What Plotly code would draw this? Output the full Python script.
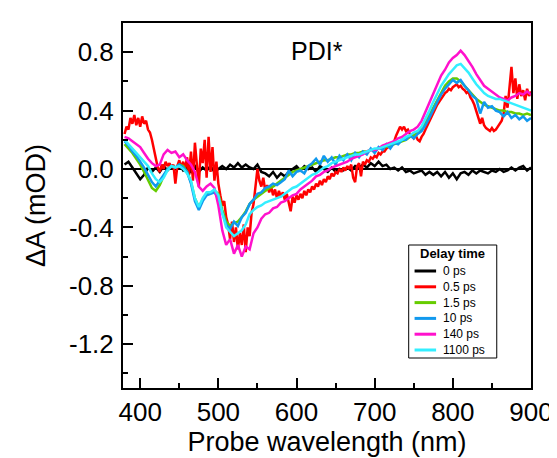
import plotly.graph_objects as go

# Probe wavelength grid (nm) shared by most series
wavelength = [
    380, 385, 390, 395, 400, 405, 410, 415, 420, 425,
    430, 435, 440, 445, 450, 455, 460, 465, 470, 475,
    480, 485, 490, 495, 500, 505, 510, 515, 520, 525,
    530, 535, 540, 545, 550, 555, 560, 565, 570, 575,
    580, 585, 590, 595, 600, 605, 610, 615, 620, 625,
    630, 635, 640, 645, 650, 655, 660, 665, 670, 675,
    680, 685, 690, 695, 700, 705, 710, 715, 720, 725,
    730, 735, 740, 745, 750, 755, 760, 765, 770, 775,
    780, 785, 790, 795, 800, 805, 810, 815, 820, 825,
    830, 835, 840, 845, 850, 855, 860, 865, 870, 875,
    880, 885, 890, 895, 900,
]

# finer grid read for the noisy 0.5 ps trace
wavelength_fine = [
    380, 382.5, 385, 387.5, 390, 392.5, 395, 397.5, 400, 402.5,
    405, 407.5, 410, 412.5, 415, 417.5, 420, 422.5, 425, 427.5,
    430, 432.5, 435, 437.5, 440, 442.5, 445, 447.5, 450, 452.5,
    455, 457.5, 460, 462.5, 465, 467.5, 470, 472.5, 475, 477.5,
    480, 482.5, 485, 487.5, 490, 492.5, 495, 497.5, 500, 502.5,
    505, 507.5, 510, 512.5, 515, 517.5, 520, 522.5, 525, 527.5,
    530, 532.5, 535, 537.5, 540, 542.5, 545, 547.5, 550, 552.5,
    555, 557.5, 560, 562.5, 565, 567.5, 570, 572.5, 575, 577.5,
    580, 582.5, 585, 587.5, 590, 592.5, 595, 597.5, 600, 602.5,
    605, 607.5, 610, 612.5, 615, 617.5, 620, 622.5, 625, 627.5,
    630, 632.5, 635, 637.5, 640, 642.5, 645, 647.5, 650, 652.5,
    655, 657.5, 660, 662.5, 665, 667.5, 670, 672.5, 675, 677.5,
    680, 682.5, 685, 687.5, 690, 692.5, 695, 697.5, 700, 702.5,
    705, 707.5, 710, 712.5, 715, 717.5, 720, 722.5, 725, 727.5,
    730, 732.5, 735, 737.5, 740, 742.5, 745, 747.5, 750, 752.5,
    755, 757.5, 760, 762.5, 765, 767.5, 770, 772.5, 775, 777.5,
    780, 782.5, 785, 787.5, 790, 792.5, 795, 797.5, 800, 802.5,
    805, 807.5, 810, 812.5, 815, 817.5, 820, 822.5, 825, 827.5,
    830, 832.5, 835, 837.5, 840, 842.5, 845, 847.5, 850, 852.5,
    855, 857.5, 860, 862.5, 865, 867.5, 870, 872.5, 875, 877.5,
    880, 882.5, 885, 887.5, 890, 892.5, 895, 897.5, 900,
]

dA_0ps = [
    0.03, 0.05, 0.01, -0.03, -0.07, -0.04, 0.01, -0.02, 0.01, -0.02,
    0.02, -0.01, 0.02, 0.00, 0.03, -0.01, 0.01, -0.02, 0.02, -0.02,
    0.01, -0.01, 0.02, -0.02, 0.00, 0.02, 0.00, 0.03, 0.01, 0.04,
    0.01, 0.03, 0.01, 0.00, 0.03, -0.02, -0.03, -0.05, -0.02, -0.06,
    -0.03, -0.05, -0.02, 0.00, 0.02, -0.01, 0.02, 0.00, 0.01, -0.02,
    0.02, 0.00, -0.02, 0.01, -0.02, 0.00, -0.01, 0.01, -0.01, 0.02,
    0.01, 0.03, 0.01, 0.04, 0.02, 0.05, 0.02, 0.03, 0.00, 0.01,
    -0.01, 0.01, -0.02, -0.01, -0.03, -0.02, -0.01, -0.04, -0.02, -0.04,
    -0.02, -0.05, -0.02, -0.06, -0.03, -0.07, -0.03, -0.02, -0.04, -0.01,
    -0.03, -0.01, -0.02, -0.03, -0.01, -0.02, 0.00, -0.02, -0.01, 0.01,
    -0.01, 0.01, 0.02, -0.01, 0.01,
]

dA_0p5ps = [
    0.24, 0.29, 0.27, 0.35, 0.31, 0.37, 0.30, 0.35, 0.29, 0.36,
    0.31, 0.33, 0.27, 0.25, 0.20, 0.13, 0.06, 0.01, -0.02, 0.03,
    0.00, 0.05, 0.02, 0.04, 0.01, 0.03, -0.10, 0.02, 0.06, 0.01,
    0.05, 0.00, 0.08, -0.04, 0.12, -0.08, 0.18, 0.02, -0.12, 0.14,
    0.04, 0.20, -0.06, 0.22, -0.02, 0.15, -0.08, 0.05, -0.10, -0.18,
    -0.25, -0.22, -0.33, -0.38, -0.48, -0.36, -0.50, -0.40, -0.55, -0.44,
    -0.52, -0.38, -0.57, -0.40, -0.46, -0.30, -0.24, -0.12, 0.00, -0.08,
    -0.12, -0.06, -0.15, -0.11, -0.16, -0.12, -0.18, -0.14, -0.20, -0.15,
    -0.19, -0.16, -0.21, -0.17, -0.22, -0.29, -0.19, -0.23, -0.18, -0.21,
    -0.17, -0.20, -0.15, -0.18, -0.14, -0.16, -0.12, -0.14, -0.10, -0.12,
    -0.08, -0.11, -0.07, -0.09, -0.05, -0.07, -0.03, -0.05, -0.02, -0.03,
    0.00, -0.02, 0.01, -0.01, 0.02, 0.00, 0.03, -0.06, -0.09, 0.02,
    0.04, -0.05, 0.05, 0.03, 0.06, 0.05, 0.08, 0.07, 0.09, 0.08,
    0.11, 0.10, 0.12, 0.12, 0.14, 0.15, 0.16, 0.18, 0.19, 0.23,
    0.26, 0.29, 0.27, 0.29, 0.26, 0.27, 0.24, 0.23, 0.21, 0.23,
    0.20, 0.19, 0.22, 0.24, 0.27, 0.30, 0.33, 0.36, 0.39, 0.42,
    0.44, 0.46, 0.48, 0.50, 0.52, 0.53, 0.55, 0.54, 0.56, 0.57,
    0.58, 0.56, 0.57, 0.55, 0.54, 0.52, 0.53, 0.49, 0.47, 0.44,
    0.40, 0.36, 0.31, 0.35, 0.30, 0.28, 0.27, 0.26, 0.28, 0.26,
    0.27, 0.29, 0.31, 0.33, 0.38, 0.50, 0.42, 0.58, 0.70, 0.52,
    0.62, 0.48, 0.58, 0.50, 0.54, 0.47, 0.55, 0.50, 0.53,
]

dA_1p5ps = [
    0.17, 0.14, 0.11, 0.07, 0.03, -0.02, -0.07, -0.13, -0.15, -0.11,
    -0.05, 0.00, 0.02, 0.01, 0.03, 0.02, -0.02, -0.09, -0.20, -0.26,
    -0.21, -0.17, -0.16, -0.15, -0.17, -0.28, -0.36, -0.39, -0.37, -0.36,
    -0.33, -0.29, -0.24, -0.21, -0.19, -0.17, -0.15, -0.13, -0.12, -0.10,
    -0.08, -0.06, -0.04, -0.02, -0.01, 0.00, 0.01, 0.02, 0.03, 0.04,
    0.05, 0.06, 0.06, 0.07, 0.08, 0.08, 0.09, 0.10, 0.10, 0.11,
    0.11, 0.12, 0.12, 0.13, 0.13, 0.14, 0.15, 0.15, 0.16, 0.17,
    0.18, 0.19, 0.20, 0.22, 0.23, 0.25, 0.28, 0.32, 0.37, 0.43,
    0.48, 0.53, 0.57, 0.60, 0.62, 0.62, 0.60, 0.57, 0.54, 0.51,
    0.48, 0.46, 0.44, 0.43, 0.42, 0.41, 0.40, 0.40, 0.39, 0.39,
    0.38, 0.38, 0.37, 0.38, 0.37,
]

dA_10ps = [
    0.19, 0.16, 0.12, 0.09, 0.05, 0.01, -0.04, -0.09, -0.12, -0.08,
    -0.04, 0.00, 0.02, 0.01, 0.03, 0.01, -0.02, -0.10, -0.22, -0.28,
    -0.22, -0.18, -0.17, -0.16, -0.20, -0.30, -0.38, -0.41, -0.36, -0.39,
    -0.33, -0.30, -0.24, -0.21, -0.17, -0.16, -0.13, -0.12, -0.10, -0.11,
    -0.09, -0.07, -0.01, -0.05, -0.02, -0.01, -0.03, 0.02, 0.04, 0.07,
    0.03, 0.09, 0.05, 0.08, 0.03, 0.09, 0.06, 0.10, 0.06, 0.11,
    0.08, 0.12, 0.10, 0.14, 0.11, 0.15, 0.13, 0.17, 0.14, 0.18,
    0.17, 0.20, 0.20, 0.23, 0.21, 0.24, 0.26, 0.30, 0.35, 0.41,
    0.46, 0.51, 0.55, 0.58, 0.61, 0.59, 0.61, 0.57, 0.54, 0.50,
    0.48, 0.38, 0.46, 0.42, 0.43, 0.40, 0.39, 0.36, 0.39, 0.35,
    0.37, 0.34, 0.36, 0.33, 0.35,
]

dA_140ps = [
    0.22, 0.21, 0.19, 0.17, 0.15, 0.11, 0.07, 0.04, 0.02, 0.03,
    0.10, 0.13, 0.11, 0.12, 0.08, 0.10, 0.06, 0.03, -0.02, -0.12,
    -0.15, -0.12, -0.10, -0.13, -0.25, -0.42, -0.52, -0.48, -0.58, -0.52,
    -0.60, -0.53, -0.55, -0.44, -0.40, -0.34, -0.31, -0.30, -0.27, -0.26,
    -0.23, -0.22, -0.20, -0.18, -0.17, -0.14, -0.12, -0.10, -0.08, -0.05,
    -0.04, -0.02, -0.01, 0.01, 0.02, 0.03, 0.04, 0.05, 0.07, 0.08,
    0.09, 0.10, 0.12, 0.13, 0.13, 0.14, 0.16, 0.17, 0.18, 0.19,
    0.21, 0.22, 0.24, 0.26, 0.27, 0.29, 0.33, 0.39, 0.46, 0.52,
    0.58, 0.64, 0.68, 0.73, 0.76, 0.78, 0.81, 0.78, 0.74, 0.70,
    0.65, 0.61, 0.57, 0.55, 0.53, 0.51, 0.49, 0.48, 0.47, 0.49,
    0.50, 0.52, 0.51, 0.53, 0.51,
]

dA_1100ps = [
    0.20, 0.17, 0.14, 0.11, 0.08, 0.05, 0.02, -0.03, -0.07, -0.09,
    -0.06, -0.01, 0.02, 0.01, 0.02, 0.00, -0.03, -0.08, -0.20, -0.26,
    -0.20, -0.16, -0.16, -0.14, -0.18, -0.30, -0.40, -0.43, -0.46, -0.44,
    -0.42, -0.38, -0.31, -0.28, -0.26, -0.25, -0.23, -0.22, -0.21, -0.20,
    -0.19, -0.17, -0.15, -0.13, -0.12, -0.10, -0.08, -0.06, -0.04, -0.03,
    -0.01, 0.01, 0.02, 0.04, 0.05, 0.06, 0.07, 0.08, 0.09, 0.10,
    0.10, 0.11, 0.12, 0.13, 0.14, 0.14, 0.15, 0.16, 0.17, 0.18,
    0.19, 0.20, 0.22, 0.23, 0.25, 0.26, 0.29, 0.34, 0.40, 0.46,
    0.52, 0.57, 0.61, 0.65, 0.68, 0.71, 0.72, 0.69, 0.66, 0.62,
    0.58, 0.55, 0.52, 0.50, 0.49, 0.48, 0.48, 0.47, 0.46, 0.45,
    0.44, 0.43, 0.42, 0.41, 0.40,
]

series_names = ["0 ps", "0.5 ps", "1.5 ps", "10 ps", "140 ps", "1100 ps"]
series_x = [wavelength, wavelength_fine, wavelength, wavelength, wavelength, wavelength]
series_values = [dA_0ps, dA_0p5ps, dA_1p5ps, dA_10ps, dA_140ps, dA_1100ps]
series_colors = ["#000000", "#FF0000", "#66CC00", "#1199EE", "#FF11CC", "#33EEFF"]
legend_title = "Delay time"

y_tickvals = [-1.2, -0.8, -0.4, 0.0, 0.4, 0.8]
y_ticktext = ["-1.2", "-0.8", "-0.4", "0.0", "0.4", "0.8"]
x_tickvals = [400, 500, 600, 700, 800, 900]

FONT = "Liberation Sans, Arial, Helvetica, sans-serif"

# plot-area geometry in pixels (for placing the hand-drawn legend box)
W, H = 557, 458
ML, MR, MT, MB = 115, 25, 15, 78
PW, PH = W - ML - MR, H - MT - MB


def px(x):
    return (x - ML) / PW


def py(y):
    return (H - MB - y) / PH


fig = go.Figure()
for name, xs, vals, col in zip(series_names, series_x, series_values, series_colors):
    fig.add_trace(go.Scatter(x=xs, y=vals, mode="lines", name=name,
                             line=dict(color=col, width=2.5), showlegend=False))

LEG_TOP, LEG_STEP, LEG_FIRST = 237, 15.8, 263.0
LEG_BOTTOM = LEG_FIRST + 5 * LEG_STEP + 8
shapes = [dict(type="rect", xref="paper", yref="paper",
               x0=px(407), x1=px(497), y0=py(LEG_BOTTOM), y1=py(LEG_TOP),
               line=dict(color="black", width=1), fillcolor="white", layer="above")]
annotations = [
    dict(text="PDI*", xref="paper", yref="paper", x=px(313), y=py(43),
         xanchor="center", yanchor="middle", showarrow=False,
         font=dict(size=25, family=FONT)),
    dict(text="<b>%s</b>" % legend_title, xref="paper", yref="paper",
         x=px(452), y=py(246), xanchor="center", yanchor="middle",
         showarrow=False, borderpad=0, font=dict(size=13, family=FONT)),
]
for k, (name, col) in enumerate(zip(series_names, series_colors)):
    yy = LEG_FIRST + k * LEG_STEP
    shapes.append(dict(type="line", xref="paper", yref="paper",
                       x0=px(413), x1=px(435), y0=py(yy), y1=py(yy),
                       line=dict(color=col, width=3), layer="above"))
    annotations.append(dict(text=name, xref="paper", yref="paper",
                            x=px(441), y=py(yy), xanchor="left", yanchor="middle",
                            showarrow=False, borderpad=0,
                            font=dict(size=12, family=FONT)))

fig.update_layout(
    width=W, height=H,
    margin=dict(l=ML, r=MR, t=MT, b=MB),
    paper_bgcolor="white", plot_bgcolor="white",
    font=dict(family=FONT, color="black"),
    showlegend=False,
    shapes=shapes,
    annotations=annotations,
)

fig.update_xaxes(
    range=[378, 900], tickvals=x_tickvals,
    showline=True, linecolor="black", linewidth=2, mirror=True,
    ticks="inside", ticklen=10, tickwidth=2, tickcolor="black",
    tickfont=dict(size=26, family=FONT),
    minor=dict(dtick=50, tick0=0, ticks="inside", ticklen=5, tickwidth=2, tickcolor="black"),
    showgrid=False, zeroline=False,
    title=dict(text="Probe wavelength (nm)", font=dict(size=27, family=FONT), standoff=6),
)
fig.update_yaxes(
    range=[-1.5, 1.0], tickvals=y_tickvals, ticktext=y_ticktext,
    showline=True, linecolor="black", linewidth=2, mirror=True,
    ticks="inside", ticklen=10, tickwidth=2, tickcolor="black",
    tickfont=dict(size=26, family=FONT), ticklabelstandoff=2,
    minor=dict(dtick=0.2, tick0=0, ticks="inside", ticklen=5, tickwidth=2, tickcolor="black"),
    showgrid=False, zeroline=True, zerolinecolor="black", zerolinewidth=1.5,
    title=dict(text="ΔA (mOD)", font=dict(size=27, family=FONT), standoff=16),
)

fig.write_html("out.html")
